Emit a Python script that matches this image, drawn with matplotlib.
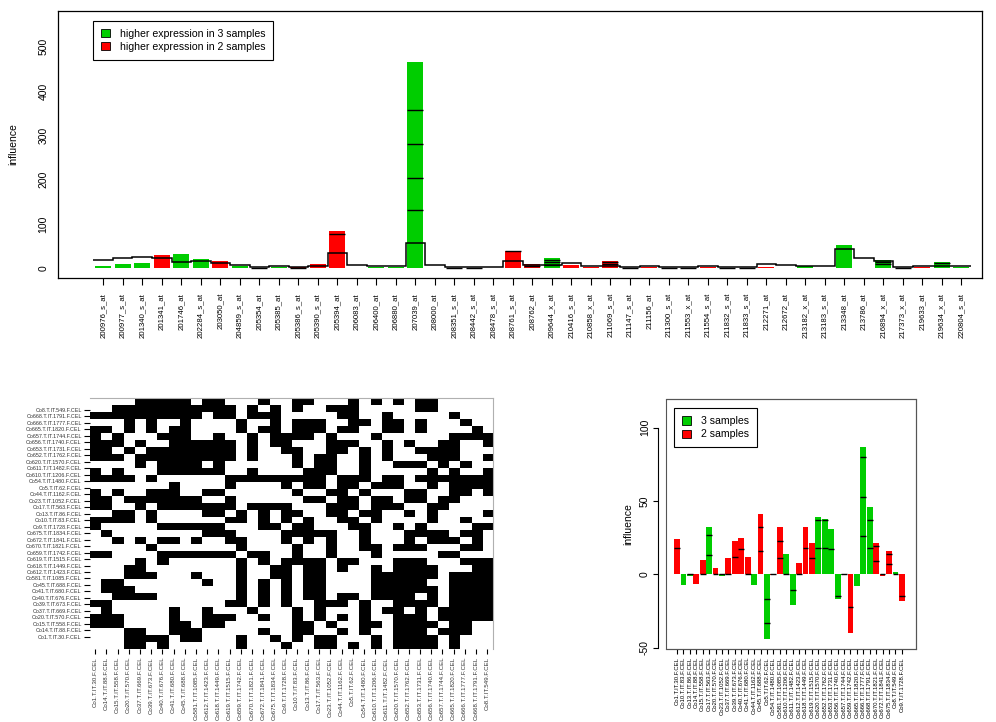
import numpy as np
import matplotlib
matplotlib.use("Agg")
import matplotlib.pyplot as plt
from matplotlib.colors import ListedColormap
from matplotlib.patches import Patch, Rectangle

plt.rcParams['font.family'] = ['Liberation Sans', 'DejaVu Sans']

GREEN = '#00CD00'
RED = '#FF0000'

# ---- upper panel: influence per probe set
probes = ['200976_s_at', '200977_s_at', '201340_s_at', '201341_at', '201746_at',
          '202284_s_at', '203050_at', '204859_s_at', '205354_at', '205385_at',
          '205386_s_at', '205390_s_at', '205394_at', '206083_at', '206400_at',
          '206880_at', '207039_at', '208000_at', '208351_s_at', '208442_s_at',
          '208478_s_at', '208761_s_at', '208762_at', '209644_x_at', '210416_s_at',
          '210858_x_at', '211069_s_at', '211147_s_at', '211156_at', '211300_s_at',
          '211553_x_at', '211554_s_at', '211832_s_at', '211833_s_at', '212271_at',
          '212672_at', '213182_x_at', '213183_s_at', '213348_at', '213786_at',
          '216894_x_at', '217373_x_at', '219633_at', '219634_x_at', '220804_s_at']
probe_influence = [6, 10.5, 12.8, 31, 33, 22, 17, 4.5, 1.5, 3,
                   2, 10.5, 85, 1.5, 2.5, 2.5, 465, 1.5, 1.5, 1.5,
                   1.5, 40, 10, 23, 7, 3, 17, 1.5, 3, 1.5,
                   1.5, 3, 1.5, 1.5, 4, 1.5, 5, 1.5, 53, 1,
                   18, 1.5, 4, 15, 3]
probe_group = [3, 3, 3, 2, 3, 3, 2, 3, 3, 3,
               2, 2, 2, 2, 3, 3, 3, 2, 3, 2,
               3, 2, 2, 3, 2, 2, 2, 3, 2, 2,
               3, 2, 2, 3, 2, 2, 3, 3, 3, 3,
               3, 2, 2, 3, 3]
probe_step = [18, 22.5, 26, 22.5, 15, 16, 13, 7, 2.3, 5,
              2.3, 6, 35, 7.5, 4.5, 4.5, 58, 7.5, 3, 3,
              3, 17, 7, 7.5, 11, 5, 6, 2, 5, 3,
              3, 4.5, 3, 3, 10.5, 7.5, 6, 5, 43.6, 23,
              16, 2, 5, 4.5, 5]
# segment borders inside the stacked bars
probe_marks = {8: [1], 10: [1.5], 12: [77], 16: [131, 203, 280, 357],
               18: [1], 19: [1], 21: [39], 22: [6], 23: [19.5, 14.3, 8.3],
               26: [13.5, 9], 27: [1], 29: [1], 30: [1], 32: [1], 33: [1],
               40: [14, 9], 41: [1], 43: [11]}

# ---- lower left: binary sample x sample map (black cells per row, top row first)
heat_cols = ['Co1.T.IT.30.F.CEL', 'Co14.T.IT.88.F.CEL', 'Co15.T.IT.558.F.CEL',
             'Co20.T.IT.570.F.CEL', 'Co37.T.IT.669.F.CEL', 'Co39.T.IT.673.F.CEL',
             'Co40.T.IT.676.F.CEL', 'Co41.T.IT.680.F.CEL', 'Co45.T.IT.688.F.CEL',
             'Co581.T.IT.1085.F.CEL', 'Co612.T.IT.1423.F.CEL', 'Co618.T.IT.1449.F.CEL',
             'Co619.T.IT.1515.F.CEL', 'Co659.T.IT.1742.F.CEL', 'Co670.T.IT.1821.F.CEL',
             'Co672.T.IT.1841.F.CEL', 'Co675.T.IT.1834.F.CEL', 'Co9.T.IT.1728.F.CEL',
             'Co10.T.IT.83.F.CEL', 'Co13.T.IT.86.F.CEL', 'Co17.T.IT.563.F.CEL',
             'Co23.T.IT.1052.F.CEL', 'Co44.T.IT.1162.F.CEL', 'Co5.T.IT.62.F.CEL',
             'Co54.T.IT.1480.F.CEL', 'Co610.T.IT.1206.F.CEL', 'Co611.T.IT.1482.F.CEL',
             'Co620.T.IT.1570.F.CEL', 'Co652.T.IT.1762.F.CEL', 'Co653.T.IT.1731.F.CEL',
             'Co656.T.IT.1740.F.CEL', 'Co657.T.IT.1744.F.CEL', 'Co665.T.IT.1820.F.CEL',
             'Co666.T.IT.1777.F.CEL', 'Co668.T.IT.1791.F.CEL', 'Co8.T.IT.549.F.CEL']
heat_rows = heat_cols[::-1]
heat_black = [
    [4, 5, 6, 7, 8, 10, 11, 15, 18, 19, 23, 25, 27, 29, 30],
    [2, 3, 4, 5, 6, 7, 8, 9, 10, 11, 12, 14, 16, 18, 21, 22, 23, 29, 30],
    [0, 1, 2, 3, 4, 5, 6, 7, 8, 9, 11, 12, 14, 15, 16, 22, 23, 26, 32],
    [3, 5, 8, 13, 16, 18, 19, 20, 23, 24, 26, 27, 29, 33],
    [0, 1, 3, 5, 7, 8, 13, 15, 16, 18, 19, 20, 22, 23, 26, 27, 29, 34],
    [0, 2, 6, 7, 8, 11, 14, 16, 17, 18, 19, 21, 25, 32, 33, 34, 35],
    [0, 1, 2, 4, 7, 8, 9, 10, 11, 12, 14, 16, 17, 21, 22, 23, 26, 28, 31, 32, 35],
    [0, 1, 3, 5, 6, 7, 8, 9, 10, 11, 12, 14, 17, 18, 21, 22, 24, 26, 29, 30, 31, 32],
    [0, 1, 2, 4, 5, 6, 7, 8, 9, 10, 11, 12, 14, 18, 20, 21, 24, 26, 30, 31, 32, 35],
    [4, 6, 7, 8, 9, 11, 18, 20, 21, 24, 27, 28, 29, 31, 33],
    [0, 2, 6, 7, 8, 9, 10, 11, 14, 19, 20, 21, 24, 30, 32, 35],
    [0, 1, 2, 3, 5, 12, 13, 14, 15, 16, 17, 18, 19, 20, 22, 23, 24, 26, 27, 29, 30, 31, 32, 33, 34, 35],
    [7, 12, 17, 19, 20, 22, 23, 25, 26, 27, 30, 32, 33, 34, 35],
    [0, 2, 5, 6, 7, 10, 11, 18, 21, 22, 24, 28, 29, 32, 33, 35],
    [0, 1, 3, 4, 5, 6, 7, 8, 9, 12, 19, 20, 22, 23, 25, 26, 28, 29, 31, 32],
    [0, 1, 4, 6, 7, 8, 9, 10, 11, 12, 14, 15, 16, 17, 21, 22, 23, 25, 26, 27, 30, 31],
    [2, 3, 5, 10, 11, 13, 15, 17, 18, 21, 22, 24, 25, 28, 30, 35],
    [0, 1, 2, 3, 5, 12, 13, 15, 17, 19, 22, 23, 25, 30, 33],
    [0, 6, 7, 8, 9, 10, 11, 15, 16, 18, 19, 23, 24, 27, 29, 34, 35],
    [1, 10, 11, 12, 17, 18, 19, 20, 21, 24, 28, 29, 30, 31, 33, 34],
    [2, 4, 6, 7, 9, 12, 13, 17, 19, 21, 24, 28, 30, 31, 32, 34],
    [5, 13, 18, 21, 24, 25, 27, 28, 29, 33, 34],
    [0, 1, 6, 7, 8, 9, 10, 11, 12, 14, 15, 18, 21, 25, 31, 32],
    [4, 6, 13, 15, 17, 18, 19, 20, 22, 23, 27, 28, 29, 33, 34, 35],
    [3, 4, 13, 16, 17, 19, 20, 22, 25, 27, 28, 29, 30, 34, 35],
    [3, 4, 5, 9, 13, 16, 17, 19, 20, 25, 26, 27, 28, 29, 30, 32, 33, 34, 35],
    [1, 2, 10, 13, 15, 17, 19, 20, 25, 26, 27, 28, 29, 32, 33, 34, 35],
    [1, 2, 3, 13, 15, 17, 19, 20, 25, 26, 27, 28, 29, 30, 32, 33, 34, 35],
    [2, 3, 4, 5, 13, 15, 17, 19, 20, 22, 23, 25, 26, 27, 28, 30, 32, 33, 34, 35],
    [0, 1, 12, 13, 15, 17, 20, 21, 22, 24, 27, 28, 29, 30, 32, 33, 34, 35],
    [1, 7, 10, 14, 18, 20, 24, 26, 27, 29, 31, 32, 33, 34, 35],
    [0, 1, 2, 7, 10, 11, 12, 15, 18, 20, 22, 24, 27, 28, 29, 31, 32, 33, 34, 35],
    [0, 1, 2, 7, 8, 10, 11, 18, 19, 21, 24, 25, 27, 28, 29, 30, 32, 33],
    [3, 4, 7, 8, 9, 15, 18, 19, 22, 24, 27, 28, 29, 31, 32, 33],
    [3, 4, 5, 6, 8, 9, 13, 16, 18, 20, 21, 25, 27, 28, 29, 30, 32],
    [3, 4, 6, 13, 17, 20, 21, 23, 25, 27, 28, 29, 30, 32],
]

# ---- lower right: influence per sample
samples = ['Co1.T.IT.30.F.CEL', 'Co10.T.IT.83.F.CEL', 'Co13.T.IT.86.F.CEL',
           'Co14.T.IT.88.F.CEL', 'Co15.T.IT.558.F.CEL', 'Co17.T.IT.563.F.CEL',
           'Co20.T.IT.570.F.CEL', 'Co23.T.IT.1052.F.CEL', 'Co37.T.IT.669.F.CEL',
           'Co39.T.IT.673.F.CEL', 'Co40.T.IT.676.F.CEL', 'Co41.T.IT.680.F.CEL',
           'Co44.T.IT.1162.F.CEL', 'Co45.T.IT.688.F.CEL', 'Co5.T.IT.62.F.CEL',
           'Co54.T.IT.1480.F.CEL', 'Co581.T.IT.1085.F.CEL', 'Co610.T.IT.1206.F.CEL',
           'Co611.T.IT.1482.F.CEL', 'Co612.T.IT.1423.F.CEL', 'Co618.T.IT.1449.F.CEL',
           'Co619.T.IT.1515.F.CEL', 'Co620.T.IT.1570.F.CEL', 'Co652.T.IT.1762.F.CEL',
           'Co653.T.IT.1731.F.CEL', 'Co656.T.IT.1740.F.CEL', 'Co657.T.IT.1744.F.CEL',
           'Co659.T.IT.1742.F.CEL', 'Co665.T.IT.1820.F.CEL', 'Co666.T.IT.1777.F.CEL',
           'Co668.T.IT.1791.F.CEL', 'Co670.T.IT.1821.F.CEL', 'Co672.T.IT.1841.F.CEL',
           'Co675.T.IT.1834.F.CEL', 'Co8.T.IT.549.F.CEL', 'Co9.T.IT.1728.F.CEL']
sample_influence = [24, -7, -1.5, -6.5, 10, 32, 4.5, -1, 11, 23,
                    25, 12, -7, 41, -44.5, -0.5, 32, 14, -21, 8,
                    32, 21, 39, 38, 31, -17, -0.5, -40, -8, 87,
                    46, 21, -1.5, 16, 1.8, -18]
sample_group = [2, 3, 3, 2, 2, 3, 2, 3, 2, 2,
                2, 2, 3, 2, 3, 2, 2, 3, 3, 2,
                2, 2, 3, 3, 3, 3, 3, 2, 3, 3,
                3, 2, 2, 2, 3, 2]
sample_marks = {0: [18], 2: [0], 4: [0], 5: [27, 13], 6: [0], 7: [0], 8: [0],
                9: [12], 10: [17], 11: [0], 13: [32, 16], 14: [-17, -33],
                15: [0], 16: [23, 11], 17: [0], 18: [-11], 19: [0], 20: [18],
                21: [11], 22: [37, 18], 23: [37, 18], 24: [17], 25: [-15],
                26: [0], 27: [-22], 29: [80, 53, 26], 30: [37, 18], 31: [19, 9],
                32: [0], 33: [14, 7], 34: [0], 35: [-15]}

W, H = 996, 722
fig = plt.figure(figsize=(W / 100, H / 100), dpi=100)


def px_axes(x0, y0, x1, y1):
    # axes placed from pixel corners (top-left origin)
    return fig.add_axes([x0 / W, 1 - y1 / H, (x1 - x0) / W, (y1 - y0) / H])


def group_colors(groups):
    return [GREEN if g == 3 else RED for g in groups]


def add_legend(ax, labels, x0, y0):
    handles = [Patch(facecolor=GREEN, edgecolor='black', linewidth=0.6),
               Patch(facecolor=RED, edgecolor='black', linewidth=0.6)]
    leg = ax.legend(handles, labels, loc='upper left', bbox_to_anchor=(x0 / W, 1 - y0 / H),
                    bbox_transform=fig.transFigure, borderaxespad=0, fontsize=7.6,
                    fancybox=False, framealpha=1, edgecolor='black',
                    handlelength=0.85, handleheight=0.85, handletextpad=0.9,
                    labelspacing=0.3, borderpad=0.75)
    leg.get_frame().set_linewidth(0.8)


# upper panel
ax = px_axes(58, 10.7, 982, 277.7)
x = np.arange(len(probes))
ax.bar(x, probe_influence, width=0.82, color=group_colors(probe_group), linewidth=0, zorder=2)
ax.stairs(probe_step, np.arange(len(probes) + 1) - 0.5, baseline=None,
          color='black', linewidth=1.1, zorder=3)
for i, levels in probe_marks.items():
    ax.hlines(levels, i - 0.41, i + 0.41, color='black', linewidth=1, zorder=3)
ax.set_xlim(-2.32, 45.06)
ax.set_ylim(-21.2, 581)
ax.set_yticks(range(0, 501, 100))
ax.set_yticklabels([str(v) for v in range(0, 501, 100)], rotation=90, va='center', fontsize=7.5)
ax.tick_params(axis='y', length=0, pad=7)
ax.set_xticks(x)
ax.set_xticklabels(probes, rotation=90, fontsize=5.6)
ax.tick_params(axis='x', length=5, width=0.8, pad=6)
for s in ax.spines.values():
    s.set_linewidth(0.9)
fig.text(13 / W, 1 - 144 / H, 'influence', rotation=90, ha='center', va='center', fontsize=7.5)
add_legend(ax, ['higher expression in 3 samples', 'higher expression in 2 samples'], 93.3, 20.7)

# lower left heat map
hx = px_axes(89.5, 398, 492.7, 649)
n = len(heat_cols)
mat = np.zeros((n, n))
for r, cols in enumerate(heat_black):
    mat[r, cols] = 1
hx.imshow(mat, cmap=ListedColormap(['white', 'black']), aspect='auto',
          interpolation='nearest', extent=(-0.5, n - 0.5, n - 0.5, -0.5))
hx.set_xticks(np.arange(n))
hx.set_xticklabels(heat_cols, rotation=90, fontsize=4.4, color='#333333')
hx.set_yticks(np.linspace(1.22, 33.75, n))
hx.set_yticklabels(heat_rows, fontsize=3.9, color='#333333')
hx.tick_params(axis='x', length=3.6, width=0.8, pad=2)
hx.tick_params(axis='y', length=4.6, width=0.8, pad=1)
hx.spines['left'].set_visible(False)
hx.spines['bottom'].set_visible(False)
hx.spines['top'].set_color('#b0b0b0')
hx.spines['right'].set_color('#b0b0b0')

# lower right: influence per sample
bx = px_axes(666, 399, 916, 649)
# offset y axis first: moving the spine resets the tick labels
bx.spines['left'].set_position(('outward', 5.5))
bx.spines['left'].set_bounds(-50, 100)
bx.spines['left'].set_linewidth(0.8)
for side in ['top', 'right', 'bottom']:
    bx.spines[side].set_color('#555555')
    bx.spines[side].set_linewidth(0.8)
xs = np.arange(len(samples))
bx.bar(xs, sample_influence, width=0.9, color=group_colors(sample_group), linewidth=0, zorder=2)
for i, levels in sample_marks.items():
    bx.hlines(levels, i - 0.45, i + 0.45, color='black', linewidth=1, zorder=3)
bx.set_xlim(-1.71, 37.2)
bx.set_ylim(-51, 119.6)
bx.set_yticks([-50, 0, 50, 100])
bx.set_yticklabels(['-50', '0', '50', '100'], rotation=90, va='center', fontsize=7.5)
bx.add_patch(Rectangle((0, 0), 1, 1, transform=bx.transAxes, fill=False,
                       edgecolor='#555555', linewidth=0.8, clip_on=False))
bx.tick_params(axis='y', length=3.5, width=0.8, pad=2.5)
bx.set_xticks(xs)
bx.set_xticklabels(samples, rotation=90, fontsize=4.3)
bx.tick_params(axis='x', length=3.6, width=0.8, pad=2)
fig.text(628 / W, 1 - 524 / H, 'influence', rotation=90, ha='center', va='center', fontsize=7.5)
add_legend(bx, ['3 samples', '2 samples'], 674.3, 408.3)

fig.savefig('out.png', dpi=100)
